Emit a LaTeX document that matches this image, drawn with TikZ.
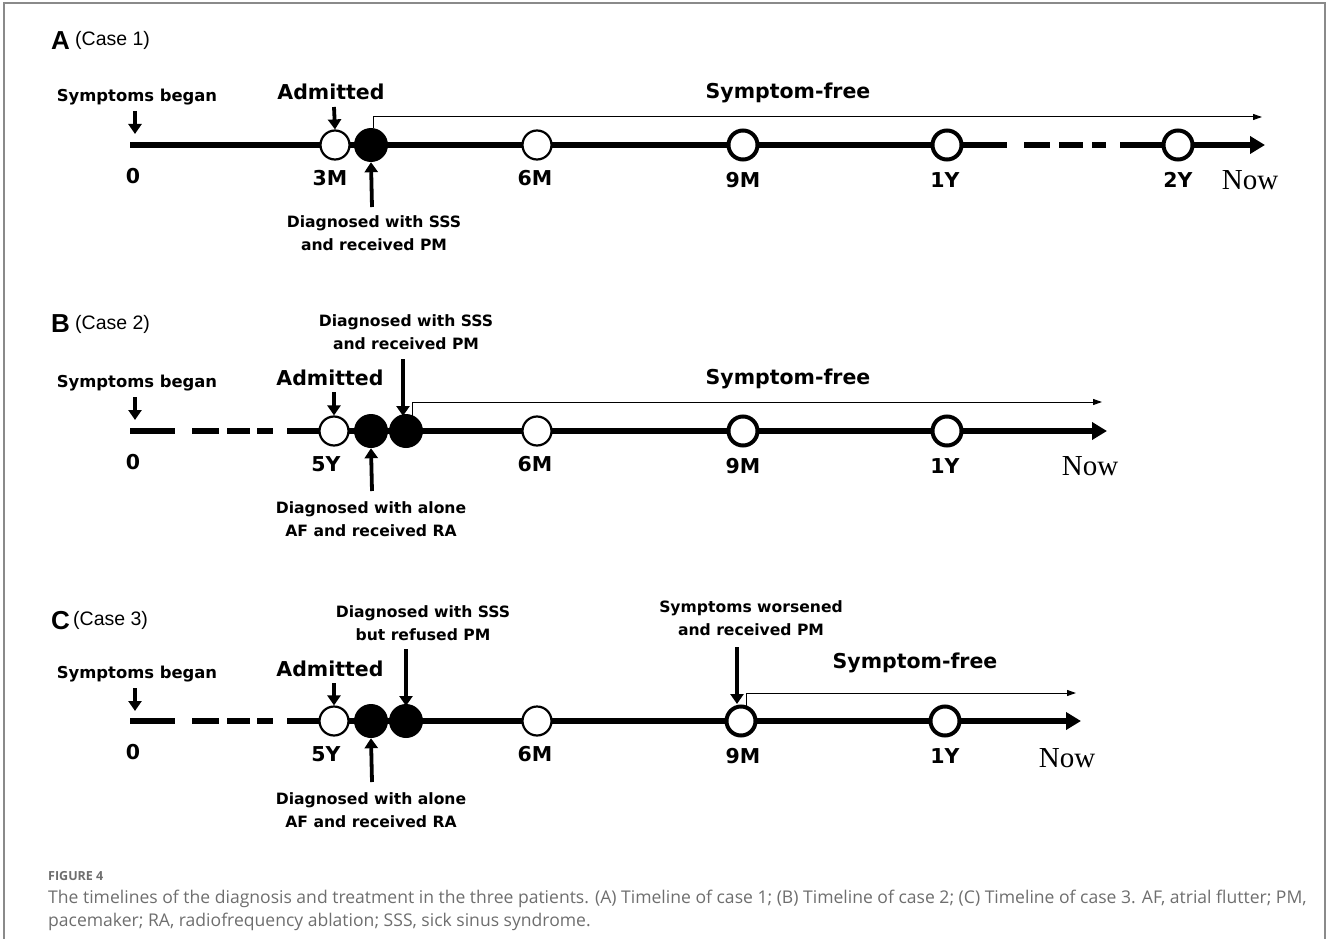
\documentclass[tikz,border=0pt]{standalone}
\usepackage{fontspec}
\usetikzlibrary{arrows.meta}
\newfontfamily\labf{DejaVu Sans}
\newfontfamily\arialf{Liberation Sans}
\newfontfamily\timesf{Liberation Serif}
\newfontfamily\capf{Open Sans}
\definecolor{capgray}{HTML}{6E6E6E}
\definecolor{framegray}{HTML}{8A8A8A}
\begin{document}
\begin{tikzpicture}[x=1pt,y=-1pt,
  tl/.style={line width=6pt},
  tlarrow/.style={line width=6pt,-{Triangle[length=15pt,width=17pt]}},
  openc/.style={circle,draw,fill=white,line width=2.2pt,minimum size=29pt,inner sep=0pt},
  openk/.style={circle,draw,fill=white,line width=4pt,minimum size=29pt,inner sep=0pt},
  fillc/.style={circle,fill=black,minimum size=34pt,inner sep=0pt},
  ptr/.style={line width=3.8pt,-{Triangle[length=10pt,width=13pt]}},
  thinarr/.style={line width=1pt,-{Triangle[length=9pt,width=6pt]}},
  lab/.style={font=\labf\fontsize{15.6}{22.5}\selectfont\bfseries,align=center,inner sep=0pt},
  symlab/.style={font=\labf\fontsize{16.4}{20}\selectfont\bfseries,inner sep=0pt},
  big/.style={font=\labf\fontsize{20.5}{24}\selectfont\bfseries,inner sep=0pt},
  tick/.style={font=\labf\fontsize{20.5}{22}\selectfont\bfseries,inner sep=0pt},
  now/.style={font=\timesf\fontsize{29}{30}\selectfont,inner sep=0pt},
  pletter/.style={font=\arialf\fontsize{26}{26}\selectfont\bfseries,inner sep=0pt,anchor=west},
  pcase/.style={font=\arialf\fontsize{19.5}{21}\selectfont,inner sep=0pt,anchor=west},
  captxt/.style={font=\capf\fontsize{17.55}{20}\selectfont,text=capgray,inner sep=0pt,anchor=west}
]
\useasboundingbox (0,0) rectangle (1328,939);
\draw[framegray,line width=1.2pt] (4,945) -- (4,3) -- (1325,3) -- (1325,945);

% ================= Panel A =================
\node[pletter] (Alet) at (51,41) {A};
\node[pcase] (Acase) at (75,40) {(Case 1)};
\coordinate (As) at (130,145);
\coordinate (Ad1) at (1007,145);
\coordinate (Ad2) at (1024,145);
\coordinate (Ad3) at (1050,145);
\coordinate (Ad4) at (1059,145);
\coordinate (Ad5) at (1083,145);
\coordinate (Ad6) at (1092,145);
\coordinate (Ad7) at (1106,145);
\coordinate (Ad8) at (1120,145);
\coordinate (Ae) at (1265,145);
\draw[tl] (As) -- (Ad1);
\draw[tl] (Ad2) -- (Ad3);
\draw[tl] (Ad4) -- (Ad5);
\draw[tl] (Ad6) -- (Ad7);
\draw[tlarrow] (Ad8) -- (Ae);
\node[openc] (A3M) at (335,145) {};
\node[fillc] (Adx) at (371,145) {};
\node[openc] (A6M) at (537,145) {};
\node[openk] (A9M) at (743,145) {};
\node[openk] (A1Y) at (947,145) {};
\node[openk] (A2Y) at (1178,145) {};
\node[symlab] (Asym) at (137,97) {Symptoms began};
\coordinate (AsymS) at (135,111);
\coordinate (AsymT) at (135,134);
\draw[ptr] (AsymS) -- (AsymT);
\node[big] (Aadm) at (331,92) {Admitted};
\coordinate (AadmS) at (334,107);
\draw[ptr] (AadmS) -- (A3M.north);
\node[lab] (Adiag) at (374,233) {Diagnosed with SSS\\and received PM};
\coordinate (AdiagS) at (372,207);
\draw[ptr] (AdiagS) -- (Adx.south);
\coordinate (Afree) at (373,117);
\coordinate (AfreeE) at (1262,117);
\draw[line width=1pt] (Adx.north -| Afree) -- (Afree);
\draw[thinarr] (Afree) -- (AfreeE);
\node[big] (Afreel) at (788,93) {Symptom-free};
\node[tick] (A0) at (133,176) {0};
\node[tick] (A3Ml) at (330,178) {3M};
\node[tick] (A6Ml) at (535,178) {6M};
\node[tick] (A9Ml) at (743,180) {9M};
\node[tick] (A1Yl) at (945,180) {1Y};
\node[tick] (A2Yl) at (1178,180) {2Y};
\node[now] (Anow) at (1250,180) {Now};

% ================= Panel B =================
\node[pletter] (Blet) at (51,324) {B};
\node[pcase] (Bcase) at (75,324) {(Case 2)};
\coordinate (Bs) at (130,431);
\coordinate (Bd1) at (175,431);
\coordinate (Bd2) at (192,431);
\coordinate (Bd3) at (219,431);
\coordinate (Bd4) at (227,431);
\coordinate (Bd5) at (250,431);
\coordinate (Bd6) at (257,431);
\coordinate (Bd7) at (273,431);
\coordinate (Bd8) at (287,431);
\coordinate (Be) at (1107,431);
\draw[tl] (Bs) -- (Bd1);
\draw[tl] (Bd2) -- (Bd3);
\draw[tl] (Bd4) -- (Bd5);
\draw[tl] (Bd6) -- (Bd7);
\draw[tlarrow] (Bd8) -- (Be);
\node[openc] (B5Y) at (334,431) {};
\node[fillc] (Bdx1) at (371,431) {};
\node[fillc] (Bdx2) at (406,431) {};
\node[openc] (B6M) at (537,431) {};
\node[openk] (B9M) at (743,431) {};
\node[openk] (B1Y) at (947,431) {};
\node[symlab] (Bsym) at (137,383) {Symptoms began};
\coordinate (BsymS) at (135,397);
\coordinate (BsymT) at (135,420);
\draw[ptr] (BsymS) -- (BsymT);
\node[big] (Badm) at (330,378) {Admitted};
\coordinate (BadmS) at (334,392);
\draw[ptr] (BadmS) -- (B5Y.north);
\node[lab] (Bsss) at (406,332) {Diagnosed with SSS\\and received PM};
\coordinate (BsssS) at (403,359);
\coordinate (BsssT) at (403,416);
\draw[ptr] (BsssS) -- (BsssT);
\node[lab] (Baf) at (371,519) {Diagnosed with alone\\AF and received RA};
\coordinate (BafS) at (372,491);
\draw[ptr] (BafS) -- (Bdx1.south);
\coordinate (Bfree0) at (412,416);
\coordinate (Bfree) at (412,402);
\coordinate (BfreeE) at (1102,402);
\draw[line width=1pt] (Bfree0) -- (Bfree);
\draw[thinarr] (Bfree) -- (BfreeE);
\node[big] (Bfreel) at (788,379) {Symptom-free};
\node[tick] (B0) at (133,462) {0};
\node[tick] (B5Yl) at (326,464) {5Y};
\node[tick] (B6Ml) at (535,464) {6M};
\node[tick] (B9Ml) at (743,466) {9M};
\node[tick] (B1Yl) at (945,466) {1Y};
\node[now] (Bnow) at (1090,466) {Now};

% ================= Panel C =================
\node[pletter] (Clet) at (51,621) {C};
\node[pcase] (Ccase) at (73,620) {(Case 3)};
\coordinate (Cs) at (130,721);
\coordinate (Cd1) at (175,721);
\coordinate (Cd2) at (192,721);
\coordinate (Cd3) at (219,721);
\coordinate (Cd4) at (227,721);
\coordinate (Cd5) at (250,721);
\coordinate (Cd6) at (257,721);
\coordinate (Cd7) at (273,721);
\coordinate (Cd8) at (287,721);
\coordinate (Ce) at (1081,721);
\draw[tl] (Cs) -- (Cd1);
\draw[tl] (Cd2) -- (Cd3);
\draw[tl] (Cd4) -- (Cd5);
\draw[tl] (Cd6) -- (Cd7);
\draw[tlarrow] (Cd8) -- (Ce);
\node[openc] (C5Y) at (334,721) {};
\node[fillc] (Cdx1) at (371,721) {};
\node[fillc] (Cdx2) at (406,721) {};
\node[openc] (C6M) at (537,721) {};
\node[openk] (C9M) at (741,721) {};
\node[openk] (C1Y) at (945,721) {};
\node[symlab] (Csym) at (137,674) {Symptoms began};
\coordinate (CsymS) at (135,688);
\coordinate (CsymT) at (135,711);
\draw[ptr] (CsymS) -- (CsymT);
\node[big] (Cadm) at (330,669) {Admitted};
\coordinate (CadmS) at (334,683);
\draw[ptr] (CadmS) -- (C5Y.north);
\node[lab] (Csss) at (423,623) {Diagnosed with SSS\\but refused  PM};
\coordinate (CsssS) at (406,649);
\coordinate (CsssT) at (406,706);
\draw[ptr] (CsssS) -- (CsssT);
\node[lab] (Caf) at (371,810) {Diagnosed with alone\\AF and received RA};
\coordinate (CafS) at (372,782);
\draw[ptr] (CafS) -- (Cdx1.south);
\node[lab] (Cwor) at (751,618) {Symptoms worsened\\and received PM};
\coordinate (CworS) at (737,647);
\coordinate (CworT) at (737,704);
\draw[ptr] (CworS) -- (CworT);
\coordinate (Cfree0) at (746,706);
\coordinate (Cfree) at (746,693);
\coordinate (CfreeE) at (1076,693);
\draw[line width=1pt] (Cfree0) -- (Cfree);
\draw[thinarr] (Cfree) -- (CfreeE);
\node[big] (Cfreel) at (915,663) {Symptom-free};
\node[tick] (C0) at (133,752) {0};
\node[tick] (C5Yl) at (326,754) {5Y};
\node[tick] (C6Ml) at (535,754) {6M};
\node[tick] (C9Ml) at (743,756) {9M};
\node[tick] (C1Yl) at (945,756) {1Y};
\node[now] (Cnow) at (1067,758) {Now};

% ================= Caption =================
\node[captxt,font=\capf\fontsize{12.5}{14}\selectfont\bfseries] (fig) at (48,876) {FIGURE 4};
\node[captxt] (cap1) at (48,899) {The timelines of the diagnosis and treatment in the three patients. (A) Timeline of case 1; (B) Timeline of case 2; (C) Timeline of case 3. AF, atrial flutter; PM,};
\node[captxt] (cap2) at (48,922) {pacemaker; RA, radiofrequency ablation; SSS, sick sinus syndrome.};
\end{tikzpicture}
\end{document}
